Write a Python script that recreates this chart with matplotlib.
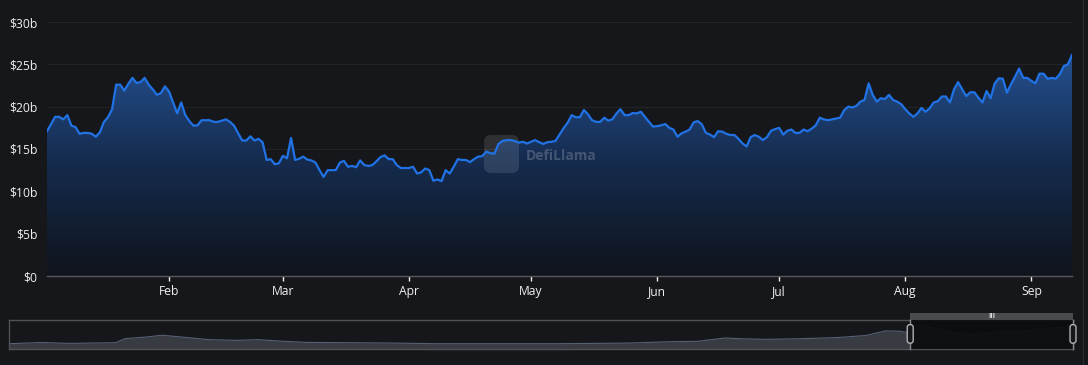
import numpy as np
import pandas as pd
import matplotlib
matplotlib.use("Agg")
import matplotlib.pyplot as plt
import matplotlib.dates as mdates
from matplotlib.colors import LinearSegmentedColormap
from matplotlib.patches import FancyBboxPatch, Rectangle
from matplotlib.lines import Line2D
from matplotlib.transforms import IdentityTransform

# ---- data ----
start = "2023-01-01"
day_offsets = [1, 3, 4, 5, 6, 7, 8, 9, 10, 11, 12, 13, 14, 15, 16, 17, 18, 19, 20,
               21, 22, 23, 24, 25, 26, 27, 28, 29, 30, 31, 32, 33, 34, 35, 36, 37, 38,
               39, 40, 41, 42, 43, 45, 46, 47, 48, 49, 50, 51, 52, 53, 54, 55, 56, 57,
               58, 59, 60, 61, 62, 63, 64, 65, 66, 67, 68, 69, 70, 71, 72, 73, 74, 75,
               76, 77, 78, 79, 80, 81, 82, 83, 84, 85, 86, 87, 88, 90, 91, 92, 93, 94,
               95, 96, 97, 98, 99, 100, 101, 102, 103, 104, 105, 106, 107, 108, 109,
               110, 111, 112, 113, 114, 115, 116, 117, 118, 119, 121, 122, 123, 124,
               125, 126, 128, 129, 130, 131, 132, 133, 134, 135, 136, 137, 138, 139,
               140, 141, 142, 143, 144, 145, 146, 147, 148, 149, 150, 151, 152, 153,
               154, 155, 156, 157, 158, 159, 160, 161, 162, 163, 164, 165, 166, 167,
               168, 169, 170, 171, 172, 173, 174, 175, 176, 177, 178, 179, 180, 181,
               182, 183, 184, 185, 186, 187, 188, 189, 190, 191, 192, 193, 194, 195,
               196, 197, 198, 199, 200, 201, 202, 203, 204, 205, 206, 207, 208, 209,
               210, 211, 212, 213, 214, 215, 216, 217, 218, 219, 220, 221, 222, 223,
               224, 225, 226, 227, 228, 229, 230, 231, 232, 233, 234, 235, 236, 237,
               238, 239, 240, 241, 242, 243, 244, 245, 246, 247, 248, 249, 250, 251,
               252, 253]
tvl_b = [17.1, 18.8, 18.8, 18.5, 19.0, 17.75, 17.6, 16.8, 16.9, 16.9, 16.8, 16.45, 16.97,
         18.2, 18.75, 19.7, 22.6, 22.6, 21.9, 22.7, 23.4, 22.8, 22.9, 23.4, 22.6, 22.05,
         21.4, 21.6, 22.4, 21.8, 20.5, 19.2, 20.5, 19.0, 18.3, 17.75, 17.8, 18.4, 18.4,
         18.4, 18.2, 18.2, 18.5, 18.2, 17.75, 16.85, 16.0, 16.0, 16.5, 16.0, 16.2, 15.8,
         13.7, 13.8, 13.2, 13.3, 14.2, 13.9, 16.3, 13.7, 13.85, 14.1, 13.75, 13.65, 13.4,
         12.5, 11.7, 12.5, 12.5, 12.5, 13.4, 13.6, 12.9, 13.0, 12.85, 13.65, 13.1, 13.0,
         13.1, 13.55, 14.05, 14.25, 13.8, 13.8, 13.1, 12.75, 12.75, 12.9, 12.1, 12.25,
         12.7, 12.5, 11.25, 11.4, 11.2, 12.5, 12.1, 12.9, 13.8, 13.7, 13.7, 13.45, 13.8,
         14.1, 14.15, 14.7, 14.5, 14.45, 15.6, 15.95, 16.05, 16.05, 15.95, 15.75, 15.85,
         15.65, 16.05, 15.8, 15.6, 15.8, 15.85, 15.95, 17.45, 18.1, 19.0, 18.75, 18.75,
         19.6, 19.1, 18.4, 18.2, 18.2, 18.7, 18.35, 18.5, 19.2, 19.7, 19.0, 19.0, 19.25,
         19.2, 19.4, 18.8, 18.2, 17.65, 17.7, 17.8, 17.95, 17.5, 17.3, 16.45, 16.85,
         17.05, 17.3, 18.15, 18.3, 17.9, 16.9, 16.7, 16.4, 17.1, 17.05, 16.8, 16.65,
         16.65, 16.2, 15.65, 15.3, 16.4, 16.65, 16.45, 16.05, 16.4, 17.15, 17.35, 17.5,
         16.7, 17.15, 17.3, 16.9, 16.9, 17.3, 17.1, 17.4, 17.8, 18.7, 18.5, 18.4, 18.5,
         18.6, 18.7, 19.6, 20.0, 19.9, 20.1, 20.6, 20.8, 22.75, 21.4, 20.6, 21.0, 20.9,
         21.4, 20.8, 20.6, 20.3, 19.7, 19.2, 18.8, 19.2, 19.85, 19.4, 19.8, 20.5, 20.65,
         21.2, 21.2, 20.5, 22.05, 22.9, 22.05, 21.25, 21.7, 21.7, 21.05, 20.5, 21.85,
         21.0, 22.75, 23.35, 23.3, 21.65, 22.65, 23.55, 24.5, 23.4, 23.4, 23.05, 22.75,
         23.9, 23.9, 23.3, 23.4, 23.3, 23.85, 24.8, 25.0, 26.1]

# overview slider series (percent of slider width, tvl in $b)
slider_pos = [0, 3.1, 5.7, 10.0, 10.9, 12.9, 14.4, 16.2, 18.8, 21.4, 23.4, 25.4, 28.0,
              32.0, 36.5, 39.8, 45.0, 51.6, 58.2, 62.0, 64.7, 67.3, 68.6, 71.2, 74.5,
              77.8, 80.5, 82.4, 83.7, 84.7, 85.6, 87.0, 88.9, 90.9, 92.9, 95.5, 97.5,
              99.4, 100]
slider_tvl = [5.4, 6.6, 5.7, 6.4, 10.5, 12.2, 14.0, 12.2, 9.5, 8.8, 9.5, 8.1, 6.7, 6.4,
              6.0, 5.4, 5.4, 5.4, 6.0, 7.4, 7.8, 11.2, 10.5, 9.8, 10.5, 11.6, 13.7, 18.4,
              18.1, 16.3, 24.3, 20.9, 15.7, 15.0, 17.4, 18.4, 20.9, 22.5, 24.3]
window = [84.7, 100]

y_ticks = [0, 5, 10, 15, 20, 25, 30]
y_labels = ["$0", "$5b", "$10b", "$15b", "$20b", "$25b", "$30b"]
month_ticks = ["2023-02-01", "2023-03-01", "2023-04-01", "2023-05-01",
               "2023-06-01", "2023-07-01", "2023-08-01", "2023-09-01"]
month_labels = ["Feb", "Mar", "Apr", "May", "Jun", "Jul", "Aug", "Sep"]

BG = "#16171a"
LINE = "#2172e5"
TXT = "#f0f0f0"

plt.rcParams["font.family"] = ["Open Sans", "DejaVu Sans"]

W, H = 1088, 365
fig = plt.figure(figsize=(W / 100, H / 100), dpi=100, facecolor=BG)

ax = fig.add_axes([47 / W, 89 / H, (1072 - 47) / W, 254 / H])
ax.set_facecolor(BG)

dates = pd.Timestamp(start) + pd.to_timedelta(day_offsets, unit="D")
x = mdates.date2num(dates)
y = np.array(tvl_b)

# gradient area
poly = ax.fill_between(x, y, 0, color="none", lw=0)
cmap = LinearSegmentedColormap.from_list("area", ["#10141c", "#152a4c", "#24508f"])
grad = np.linspace(0, 1, 256).reshape(-1, 1)
img = ax.imshow(grad, extent=[x[0], x[-1], 0, y.max()], origin="lower",
                aspect="auto", cmap=cmap, zorder=1)
img.set_clip_path(poly.get_paths()[0], transform=ax.transData)

ax.plot(x, y, color=LINE, lw=1.6, zorder=4, solid_joinstyle="round")

ax.set_xlim(x[0], x[-1])
ax.set_ylim(0, 30)

for t in y_ticks[1:]:
    ax.axhline(t, color="#222327", lw=0.8, zorder=0)

ax.set_yticks(y_ticks)
ax.set_yticklabels(y_labels)
ax.set_xticks(mdates.date2num(pd.to_datetime(month_ticks)))
ax.set_xticklabels(month_labels)
ax.tick_params(axis="y", length=0, pad=7, colors=TXT, labelsize=8.7)
ax.tick_params(axis="x", length=3.6, width=1, pad=3, colors=TXT, labelsize=8.7)
for s in ["top", "right", "left"]:
    ax.spines[s].set_visible(False)
ax.spines["bottom"].set_color("#55575c")
ax.spines["bottom"].set_linewidth(1)

# watermark
logo = FancyBboxPatch((484, H - 173), 35, 38, boxstyle="round,pad=0,rounding_size=7",
                      transform=IdentityTransform(), facecolor="#ffffff", alpha=0.11,
                      edgecolor="none", zorder=3)
ax.add_artist(logo)
ax.text(526, H - 156, "DefiLlama", transform=IdentityTransform(), color="#ffffff",
        alpha=0.2, fontsize=10, fontweight="bold", va="center", ha="left", zorder=3)

# overview slider
sax = fig.add_axes([9 / W, 16 / H, (1073 - 9) / W, 29.5 / H])
sax.set_facecolor(BG)
sax.fill_between(slider_pos, slider_tvl, 0, color="#383b42", lw=0)
sax.plot(slider_pos, slider_tvl, color="#566076", lw=0.8)
sax.set_xlim(0, 100)
sax.set_ylim(0, 30)
sax.set_xticks([])
sax.set_yticks([])
for s in sax.spines.values():
    s.set_color("#505256")
    s.set_linewidth(1)
sax.add_patch(Rectangle((window[0], 0), window[1] - window[0], 30, facecolor="#0c0d0f",
                        alpha=0.93, edgecolor="none", zorder=3))
sax.add_patch(Rectangle((window[0], 30), window[1] - window[0], 6.8, facecolor="#4a4b4e",
                        edgecolor="none", zorder=3, clip_on=False))
sax.text(sum(window) / 2, 33.4, "III", color="#dddddd", fontsize=5, ha="center",
         va="center", zorder=4, clip_on=False, fontweight="bold")
for wx in window:
    sax.plot([wx, wx], [0, 30], color="#8a8b8e", lw=1, zorder=4, clip_on=False)
    hb = FancyBboxPatch((wx - 0.28, 5.9), 0.56, 18.9,
                        boxstyle="round,pad=0,rounding_size=0.25", mutation_aspect=11,
                        facecolor="#16171a", edgecolor="#b0b1b4", lw=1, zorder=5,
                        clip_on=False)
    sax.add_patch(hb)

# right container edge
fig.add_artist(Line2D([1082.5 / W] * 2, [0, 1], color="#2a2b2f", lw=1))

fig.savefig("out.png", dpi=100, facecolor=BG)
